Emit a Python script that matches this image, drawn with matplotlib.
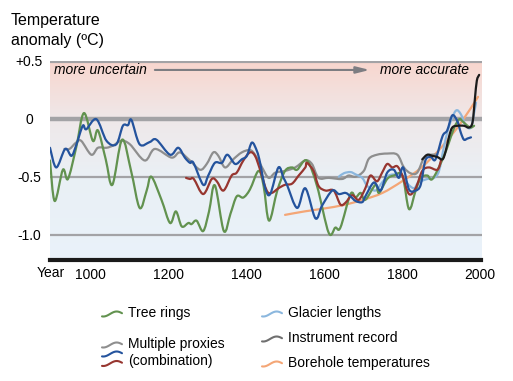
import numpy as np
import matplotlib
matplotlib.use("Agg")
import matplotlib.pyplot as plt
from matplotlib.colors import LinearSegmentedColormap
from matplotlib.path import Path
from matplotlib.patches import PathPatch

plt.rcParams['font.family'] = ['Liberation Sans', 'DejaVu Sans']

# --- data (year, anomaly in degC) ---
tree_years = [897, 909, 930, 943, 964, 984, 1007, 1020, 1040, 1057, 1082, 1105, 1127, 1145, 1157,
              1183, 1205, 1220, 1235, 1252, 1260, 1273, 1290, 1305, 1320, 1343, 1360, 1376, 1393,
              1410, 1432, 1445, 1459, 1480, 1500, 1518, 1531, 1556, 1582, 1612, 1629, 1642,
              1668, 1681, 1694, 1706, 1732, 1741, 1762, 1779, 1801, 1818, 1835, 1848, 1865,
              1878, 1904, 1921, 1934, 1947, 1955, 1968, 1977, 1985]
tree_vals = [-0.36, -0.71, -0.44, -0.52, -0.25, 0.05, -0.19, -0.10, -0.35, -0.57, -0.18, -0.45, -0.77,
             -0.62, -0.50, -0.70, -0.90, -0.80, -0.93, -0.90, -0.91, -0.88, -0.97, -0.80, -0.575,
             -0.97, -0.82, -0.67, -0.68, -0.61, -0.45, -0.58, -0.88, -0.62, -0.45, -0.42, -0.44,
             -0.36, -0.58, -0.985, -0.94, -0.94, -0.65, -0.68, -0.64, -0.70, -0.57, -0.64,
             -0.52, -0.49, -0.49, -0.78, -0.62, -0.51, -0.49, -0.52, -0.35, -0.20, -0.075,
             -0.003, -0.02, -0.06, -0.075, -0.06]

blue_years = [897, 913, 936, 952, 964, 981, 990, 1016, 1042, 1067, 1084, 1097, 1106, 1127, 1153,
              1170, 1205, 1226, 1243, 1256, 1265, 1290, 1303, 1320, 1338, 1352, 1372, 1389, 1402,
              1415, 1428, 1436, 1449, 1462, 1483, 1496, 1505, 1531, 1552, 1578, 1595, 1621, 1638,
              1655, 1668, 1681, 1698, 1706, 1728, 1745, 1762, 1779, 1792, 1803, 1818, 1835,
              1848, 1860, 1874, 1886, 1904, 1916, 1929, 1942, 1951, 1959, 1968, 1977]
blue_vals = [-0.25, -0.42, -0.26, -0.32, -0.23, -0.06, -0.09, -0.003, -0.19, -0.22, -0.06, -0.055,
             -0.01, -0.22, -0.20, -0.18, -0.31, -0.25, -0.335, -0.38, -0.38, -0.57, -0.49, -0.38,
             -0.38, -0.31, -0.39, -0.35, -0.32, -0.205, -0.28, -0.38, -0.60, -0.65, -0.42, -0.51,
             -0.57, -0.77, -0.60, -0.86, -0.75, -0.62, -0.65, -0.64, -0.67, -0.71, -0.72, -0.67,
             -0.55, -0.62, -0.465, -0.44, -0.51, -0.42, -0.61, -0.62, -0.57, -0.36, -0.33, -0.35,
             -0.15, -0.10, 0.03, -0.02, -0.12, -0.18, -0.17, -0.16]

gray_years = [934, 947, 964, 977, 1003, 1020, 1042, 1059, 1080, 1102, 1140, 1166, 1209, 1230, 1256,
              1282, 1299, 1316, 1329, 1346, 1367, 1389, 1410, 1423, 1441, 1458, 1475, 1500, 1526,
              1552, 1569, 1586, 1612, 1646, 1663, 1681, 1702, 1715, 1736, 1762, 1788, 1805,
              1822, 1839, 1857, 1874, 1890]
gray_vals = [-0.26, -0.26, -0.205, -0.19, -0.31, -0.25, -0.25, -0.23, -0.19, -0.22, -0.36, -0.26,
             -0.335, -0.29, -0.36, -0.44, -0.39, -0.29, -0.32, -0.42, -0.35, -0.29, -0.27, -0.31,
             -0.42, -0.51, -0.465, -0.45, -0.42, -0.36, -0.39, -0.51, -0.51, -0.52, -0.49, -0.50,
             -0.45, -0.345, -0.31, -0.30, -0.31, -0.42, -0.47, -0.465, -0.335, -0.31, -0.31]

red_years = [1246, 1256, 1266, 1290, 1312, 1325, 1342, 1363, 1376, 1393, 1410, 1423, 1436, 1453,
             1466, 1483, 1500, 1518, 1535, 1552, 1556, 1573, 1586, 1604, 1625, 1642, 1655, 1672,
             1689, 1706, 1719, 1736, 1749, 1762, 1775, 1788, 1801, 1818, 1835, 1852, 1869, 1891,
             1900]
red_vals = [-0.51, -0.52, -0.52, -0.65, -0.52, -0.54, -0.62, -0.49, -0.465, -0.36, -0.29, -0.32,
            -0.44, -0.62, -0.64, -0.60, -0.57, -0.56, -0.49, -0.42, -0.38, -0.45, -0.58, -0.62,
            -0.62, -0.74, -0.725, -0.66, -0.70, -0.60, -0.49, -0.54, -0.465, -0.39, -0.42, -0.41,
            -0.49, -0.65, -0.60, -0.45, -0.42, -0.44, -0.36]

glacier_years = [1638, 1651, 1668, 1681, 1698, 1711, 1732, 1749, 1766, 1788, 1801, 1814, 1831,
                 1842, 1865, 1882, 1895, 1908, 1921, 1938, 1951, 1964, 1977, 1985, 1990]
glacier_vals = [-0.50, -0.47, -0.46, -0.48, -0.51, -0.58, -0.62, -0.55, -0.49, -0.48, -0.49, -0.56,
                -0.60, -0.55, -0.52, -0.51, -0.45, -0.235, -0.06, 0.07, 0.04, -0.06, -0.075, 0.05,
                0.14]

instr_years = [1852, 1865, 1878, 1891, 1904, 1912, 1921, 1929, 1942, 1959, 1972, 1981, 1987, 1992,
               1998]
instr_vals = [-0.35, -0.31, -0.32, -0.33, -0.35, -0.28, -0.15, -0.075, -0.06, -0.06, -0.075, -0.03,
              0.17, 0.33, 0.38]

bore_years = [1500, 1550, 1600, 1650, 1700, 1750, 1800, 1850, 1900, 1950, 1995]
bore_vals = [-0.83, -0.80, -0.775, -0.745, -0.70, -0.64, -0.54, -0.42, -0.25, -0.04, 0.19]

x_ticks = [1000, 1200, 1400, 1600, 1800, 2000]
y_ticks = [0.5, 0.0, -0.5, -1.0]
y_labels = ['+0.5', '0', '-0.5', '-1.0']

c_green = '#62924f'
c_blue = '#24539d'
c_gray = '#8e8e8e'
c_red = '#973630'
c_lblue = '#8bb7de'
c_black = '#1b1b1b'
c_orange = '#f4a676'
c_instr_leg = '#6f6f6f'


def smooth_line(ax, xs, ys, color, z):
    # draw the read points joined by Catmull-Rom style bezier segments
    p = np.column_stack([xs, ys]).astype(float)
    n = len(p)
    verts = [p[0]]
    codes = [Path.MOVETO]
    for i in range(n - 1):
        p0 = p[i - 1] if i > 0 else p[i]
        p3 = p[i + 2] if i + 2 < n else p[i + 1]
        c1 = p[i] + (p[i + 1] - p0) / 6.0
        c2 = p[i + 1] - (p3 - p[i]) / 6.0
        verts += [c1, c2, p[i + 1]]
        codes += [Path.CURVE4] * 3
    ax.add_patch(PathPatch(Path(verts, codes), facecolor='none', edgecolor=color,
                           lw=1.6, joinstyle='round', capstyle='round', zorder=z))


fig = plt.figure(figsize=(5.13, 3.81), dpi=100)
ax = fig.add_axes([50 / 513, 1 - 260 / 381, 431.5 / 513, 199 / 381])
xmin, xmax = 897, 2004
ymin, ymax = -1.22, 0.5

# background gradient
bg = LinearSegmentedColormap.from_list('bg', [
    (0.0, (233 / 255, 242 / 255, 250 / 255)),
    (0.42, (234 / 255, 240 / 255, 245 / 255)),
    (0.71, (239 / 255, 232 / 255, 233 / 255)),
    (1.0, (248 / 255, 214 / 255, 206 / 255))])
grad = np.linspace(0, 1, 256).reshape(-1, 1)
ax.imshow(grad, extent=(xmin, xmax, ymin, ymax), origin='lower', aspect='auto',
          cmap=bg, zorder=0)

# grid lines
ax.axhline(0.5, color='#a3a3a6', lw=3, zorder=1)
ax.axhline(0.0, color='#a3a3a6', lw=3.2, zorder=1)
ax.axhline(-0.5, color='#a3a3a6', lw=1.6, zorder=1)
ax.axhline(-1.0, color='#a3a3a6', lw=1.6, zorder=1)

smooth_line(ax, bore_years, bore_vals, c_orange, 2)
smooth_line(ax, gray_years, gray_vals, c_gray, 3)
smooth_line(ax, glacier_years, glacier_vals, c_lblue, 3)
smooth_line(ax, tree_years, tree_vals, c_green, 4)
smooth_line(ax, red_years, red_vals, c_red, 4)
smooth_line(ax, blue_years, blue_vals, c_blue, 5)
smooth_line(ax, instr_years, instr_vals, c_black, 6)

ax.set_xlim(xmin, xmax)
ax.set_ylim(ymin, ymax)
for s in ['top', 'left', 'right']:
    ax.spines[s].set_visible(False)
ax.spines['bottom'].set_color('#1a1a1a')
ax.spines['bottom'].set_linewidth(3)

ax.set_xticks(x_ticks)
ax.set_xticklabels([str(t) for t in x_ticks], fontsize=10)
ax.set_yticks(y_ticks)
ax.set_yticklabels(y_labels, fontsize=10)
ax.tick_params(axis='x', length=0, pad=6)
ax.tick_params(axis='y', length=0, pad=15)
for lab in ax.get_yticklabels():
    lab.set_ha('center')

fig.text(37 / 513, 1 - 273 / 381, 'Year', fontsize=10, va='center', ha='left')
fig.text(11 / 513, 1 - 21 / 381, 'Temperature', fontsize=11.5, va='center', ha='left')
fig.text(11 / 513, 1 - 41 / 381, 'anomaly (ºC)', fontsize=11.5, va='center', ha='left')

# uncertainty arrow
ax.text(0.009, 0.955, 'more uncertain', transform=ax.transAxes, fontsize=10,
        style='italic', va='center', ha='left', zorder=7)
ax.text(0.971, 0.955, 'more accurate', transform=ax.transAxes, fontsize=10,
        style='italic', va='center', ha='right', zorder=7)
ax.annotate('', xy=(0.741, 0.955), xytext=(0.243, 0.955), xycoords='axes fraction',
            arrowprops=dict(arrowstyle='-|>,head_length=0.8,head_width=0.2',
                            color='#7d7d82', lw=1.5, shrinkA=0, shrinkB=0), zorder=7)

# legend with wavy icons
t = np.linspace(-0.6 * np.pi, 0.9 * np.pi, 30)
wave = np.sin(t)


def icon(x0, yc, color):
    xs = (x0 + (t - t[0]) / (t[-1] - t[0]) * 20) / 513
    ys = 1 - (yc - wave * 2.5) / 381
    fig.add_artist(plt.Line2D(xs, ys, color=color, lw=1.5, solid_capstyle='round'))


icon(102, 314, c_green)
icon(102, 345, c_gray)
icon(102, 354, c_blue)
icon(102, 363.5, c_red)
icon(262, 314, c_lblue)
icon(262, 339, c_instr_leg)
icon(262, 364, c_orange)

fig.text(128 / 513, 1 - 313 / 381, 'Tree rings', fontsize=10, va='center')
fig.text(128 / 513, 1 - 344 / 381, 'Multiple proxies', fontsize=10, va='center')
fig.text(128 / 513, 1 - 361.5 / 381, '(combination)', fontsize=10, va='center')
fig.text(288 / 513, 1 - 313 / 381, 'Glacier lengths', fontsize=10, va='center')
fig.text(288 / 513, 1 - 338 / 381, 'Instrument record', fontsize=10, va='center')
fig.text(288 / 513, 1 - 362.5 / 381, 'Borehole temperatures', fontsize=10, va='center')

fig.savefig('out.png', dpi=100)
